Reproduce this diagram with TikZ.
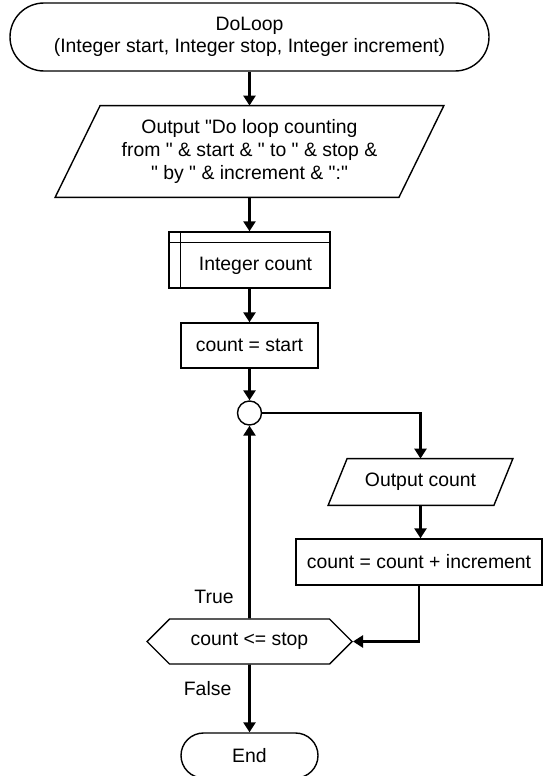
\documentclass[tikz,border=0pt]{standalone}
\usepackage{fontspec}
\setmainfont{Liberation Sans}[Ligatures=TeXOff]
\usetikzlibrary{positioning, shapes.geometric, shapes.symbols, arrows.meta, calc}

\begin{document}
\begin{tikzpicture}[x=0.5pt, y=-0.5pt,
    font=\fontsize{9.7}{11.3}\selectfont,
    box/.style={draw, line width=0.7pt, fill=white, align=center, inner sep=0pt},
    term/.style={box, rounded corners=11.25pt, minimum width=68.5pt, minimum height=22.5pt},
    io/.style={inner sep=0pt, align=center, append after command={\pgfextra{
        \draw[line width=0.7pt] ([xshift=#1]\tikzlastnode.north west)
          -- ([xshift=#1]\tikzlastnode.north east) -- ([xshift=-#1]\tikzlastnode.south east)
          -- ([xshift=-#1]\tikzlastnode.south west) -- cycle;}}},
    decision/.style={box, signal, signal to=west and east, signal pointer angle=90},
    flow/.style={line width=1.4pt, -{Triangle[length=5pt, width=6pt]}},
    lbl/.style={inner sep=0pt, anchor=east}]
    \useasboundingbox (0,0) rectangle (543,776);
    \node[term, minimum width=239.5pt, minimum height=34pt, rounded corners=17pt] (start) at (249.5,37)
      {DoLoop\\(Integer start, Integer stop, Integer increment)};
    \node[io=11.25pt, minimum width=171.5pt, minimum height=45.5pt] (greet) at (249.5,151.5)
      {Output "Do loop counting\\from " \& start \& " to " \& stop \&\\" by " \& increment \& ":"};
    \node[box, minimum width=80.5pt, minimum height=28pt] (decl) at (249.5,260) {};
    \draw[line width=0.7pt] ([yshift=-5.5pt]decl.north west) -- ([yshift=-5.5pt]decl.north east);
    \draw[line width=0.7pt] ([xshift=6pt]decl.north west) -- ([xshift=6pt]decl.south west);
    \node at ($(decl.center)+(3pt,-2.75pt)$) {Integer count};
    \node[box, minimum width=68.5pt, minimum height=22.5pt] (init) at (249.5,345.5) {count = start};
    \node[box, circle, minimum size=12pt] (join) at (249.5,413) {};
    \node[io=4.75pt, minimum width=82.5pt, minimum height=23pt] (show) at (420.5,482) {Output count};
    \node[box, minimum width=123pt, minimum height=23pt] (incr) at (419,562) {count = count + increment};
    \node[decision, minimum width=102.5pt, minimum height=22.5pt] (test) at (249.5,641.5) {count <= stop};
    \node[term] (stop) at (249.5,755.5) {End};

    \draw[flow] (start) -- (greet);
    \draw[flow] (greet) -- (decl);
    \draw[flow] (decl) -- (init);
    \draw[flow] (init) -- (join);
    \draw[flow] (join) -| (show);
    \draw[flow] (show) -- (show |- incr.north);
    \draw[flow] (incr) |- (test);
    \draw[flow] (test) -- node[lbl, pos=0.11, xshift=-7.25pt] {True} (join);
    \draw[flow] (test) -- node[lbl, pos=0.35, xshift=-8.4pt] {False} (stop);
  \end{tikzpicture}
\end{document}
